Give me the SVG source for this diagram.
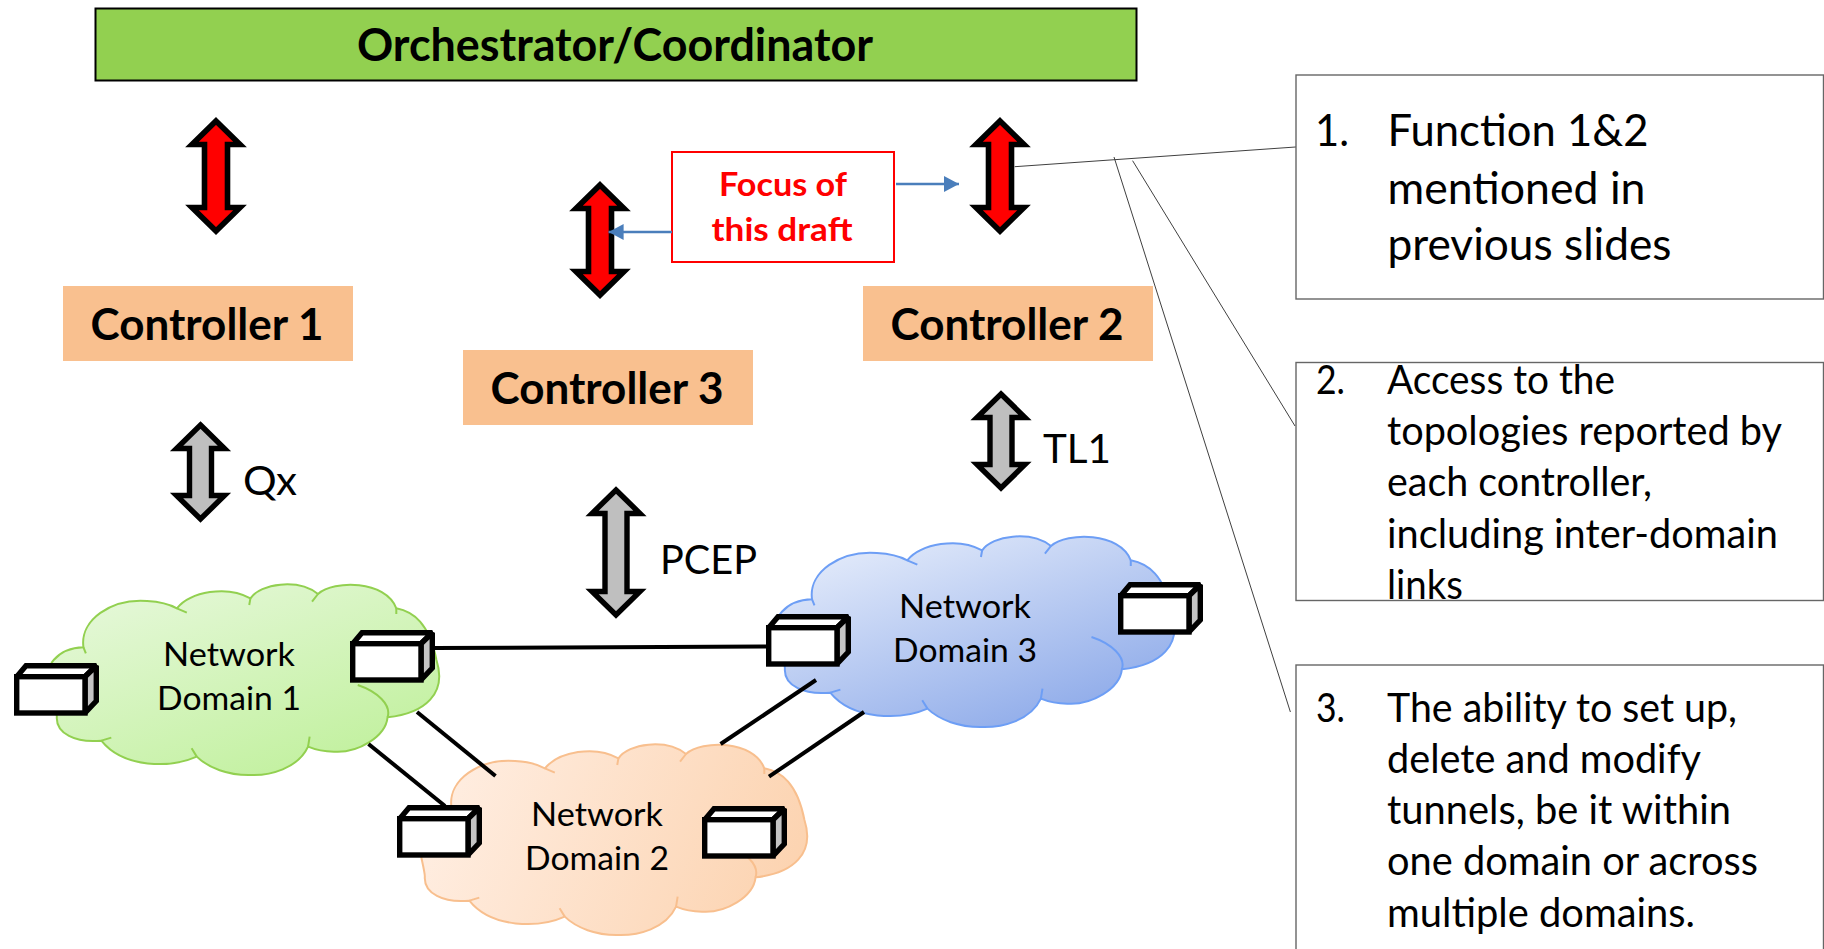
<svg xmlns="http://www.w3.org/2000/svg" xmlns:xlink="http://www.w3.org/1999/xlink" width="1824" height="949" viewBox="0 0 1824 949">
<style>
text{font-family:"Lato","Open Sans","Liberation Sans",sans-serif;fill:#000}
.b{font-weight:700}
.ctrl{fill:#F9C08F}
.cl{font-size:44px;font-weight:700;text-anchor:middle}
.nd{font-size:33px;text-anchor:middle}
.pr{font-size:41px}
.li{font-size:45px}
.ls{font-size:40px}
.red{fill:#FF0000;stroke:#000;stroke-width:5.6;stroke-miterlimit:10}
.gry{fill:#BFBFBF;stroke:#000;stroke-width:5.4;stroke-miterlimit:10}
.ce{stroke-width:2;vector-effect:non-scaling-stroke;stroke-linejoin:round}
.cw{fill:none}
.link{stroke:#000;stroke-width:4;fill:none}
.call{stroke:#404040;stroke-width:1;fill:none}
.blue{stroke:#4A7EBB;stroke-width:2.4;fill:none;marker-end:url(#ah)}
.note{fill:#fff;stroke:#666;stroke-width:1.4}
.dv{stroke:#000;stroke-width:5.4;stroke-linejoin:miter;stroke-miterlimit:2}
</style>
<defs>
<marker id="ah" markerUnits="userSpaceOnUse" markerWidth="16" markerHeight="18" refX="15" refY="9" orient="auto"><path d="M0,1 L15,9 L0,17Z" fill="#4A7EBB"/></marker>
<linearGradient id="g1" x1="0.15" y1="0" x2="0.85" y2="1"><stop offset="0" stop-color="#E6F8DA"/><stop offset="1" stop-color="#BFF09A"/></linearGradient>
<linearGradient id="g2" x1="0" y1="0.4" x2="1" y2="0.6"><stop offset="0" stop-color="#FFEEE2"/><stop offset="1" stop-color="#FCD3B0"/></linearGradient>
<linearGradient id="g3" x1="0.15" y1="0" x2="0.85" y2="1"><stop offset="0" stop-color="#E6EDFB"/><stop offset="1" stop-color="#88A6E8"/></linearGradient>
<path id="cloud" class="ce" d="M135,420 C155,393 180,383 210,382 C200,300 280,235 370,243 C400,245 430,255 445,265 C480,215 570,195 630,235 C655,190 750,175 800,222 C840,180 970,180 997,265 C1040,275 1080,310 1098,420 C1125,520 1070,580 975,592 C970,650 900,700 840,695 C815,695 795,690 775,680 C750,745 680,768 625,765 C575,765 525,745 495,710 C430,745 310,745 255,662 C190,670 140,640 143,590 C143,560 110,450 135,420Z"/>
<path id="cloudin" class="ce cw" d="M210,382 L216,400 M445,265 L470,278 M630,235 L627,255 M800,222 L785,245 M997,265 L997,282 M900,495 C950,515 985,555 975,592 M775,680 L779,650 M495,710 L482,685 M255,662 L280,653"/>
<g id="dev">
<path class="dv" fill="#fff" d="M2.7,13.7 L12,2.7 L82.3,2.7 L71,13.7Z"/>
<path class="dv" fill="#C4C4C4" d="M71,13.7 L82.3,2.7 L82.3,38 L71,50Z"/>
<rect class="dv" fill="#fff" x="2.7" y="13.7" width="68.3" height="36.3"/>
</g>
<polygon id="dbl118" points="0,4 24,27.5 11.5,27.5 11.5,90.5 24,90.5 0,114 -24,90.5 -11.5,90.5 -11.5,27.5 -24,27.5"/>
<polygon id="dbl102" points="0,4 24,27.5 11,27.5 11,74.5 24,74.5 0,98 -24,74.5 -11,74.5 -11,27.5 -24,27.5"/>
<polygon id="dbl133" points="0,4 24,27.5 11,27.5 11,105.5 24,105.5 0,129 -24,105.5 -11,105.5 -11,27.5 -24,27.5"/>
</defs>
<rect width="1824" height="949" fill="#fff"/>

<g id="orchestrator">
<rect x="95.5" y="8.5" width="1041" height="72" fill="#92D050" stroke="#000" stroke-width="2"/>
<text class="b" x="615" y="61" font-size="45" text-anchor="middle" textLength="516" lengthAdjust="spacingAndGlyphs">Orchestrator/Coordinator</text>
</g>

<g id="controller-1"><rect class="ctrl" x="63" y="286" width="290" height="75"/><text class="cl" x="207" y="340" textLength="233" lengthAdjust="spacingAndGlyphs">Controller 1</text></g>
<g id="controller-2"><rect class="ctrl" x="863" y="286" width="290" height="75"/><text class="cl" x="1007" y="340" textLength="233" lengthAdjust="spacingAndGlyphs">Controller 2</text></g>
<g id="controller-3"><rect class="ctrl" x="463" y="350" width="290" height="75"/><text class="cl" x="607" y="404" textLength="233" lengthAdjust="spacingAndGlyphs">Controller 3</text></g>

<g id="cloud-1" transform="translate(0,520) scale(0.3975,0.3333)" fill="url(#g1)" stroke="#92D050"><use xlink:href="#cloud" href="#cloud"/><use xlink:href="#cloudin" href="#cloudin"/></g>
<g id="cloud-2" transform="translate(368,680) scale(0.3975,0.3333)" fill="url(#g2)" stroke="#F8BF8E"><use xlink:href="#cloud" href="#cloud"/><use xlink:href="#cloudin" href="#cloudin"/></g>
<g id="cloud-3" transform="translate(727,472) scale(0.405,0.3333)" fill="url(#g3)" stroke="#6D9EF5"><use xlink:href="#cloud" href="#cloud"/><use xlink:href="#cloudin" href="#cloudin"/></g>

<g id="connectors">
<line class="link" x1="435" y1="648" x2="768" y2="646.5"/>
<line class="link" x1="417" y1="712" x2="495.5" y2="776"/>
<line class="link" x1="368.5" y1="744" x2="445" y2="806"/>
<line class="link" x1="816" y1="680" x2="720.6" y2="744"/>
<line class="link" x1="864" y1="712" x2="769" y2="776.7"/>
<line class="call" x1="1014.7" y1="166.7" x2="1300" y2="146.7"/>
<line class="call" x1="1114" y1="157" x2="1290.4" y2="712"/>
<line class="call" x1="1132.6" y1="160.7" x2="1295" y2="426"/>
</g>

<g id="domain-1-label"><text class="nd" x="229" y="665.5" textLength="132" lengthAdjust="spacingAndGlyphs">Network</text><text class="nd" x="229" y="709.5" textLength="144" lengthAdjust="spacingAndGlyphs">Domain 1</text></g>
<g id="domain-2-label"><text class="nd" x="597" y="825.5" textLength="132" lengthAdjust="spacingAndGlyphs">Network</text><text class="nd" x="597" y="869.5" textLength="144" lengthAdjust="spacingAndGlyphs">Domain 2</text></g>
<g id="domain-3-label"><text class="nd" x="965" y="617.5" textLength="132" lengthAdjust="spacingAndGlyphs">Network</text><text class="nd" x="965" y="661.5" textLength="144" lengthAdjust="spacingAndGlyphs">Domain 3</text></g>

<g id="device-1"><use xlink:href="#dev" href="#dev" x="14" y="663"/></g>
<g id="device-2"><use xlink:href="#dev" href="#dev" x="350" y="630"/></g>
<g id="device-3"><use xlink:href="#dev" href="#dev" x="397" y="805"/></g>
<g id="device-4"><use xlink:href="#dev" href="#dev" x="702" y="806"/></g>
<g id="device-5"><use xlink:href="#dev" href="#dev" x="766" y="614"/></g>
<g id="device-6"><use xlink:href="#dev" href="#dev" x="1118" y="582"/></g>

<g id="arrow-orch-c1"><use class="red" xlink:href="#dbl118" href="#dbl118" x="216" y="117"/></g>
<g id="arrow-orch-c3"><use class="red" xlink:href="#dbl118" href="#dbl118" x="600" y="181"/></g>
<g id="arrow-orch-c2"><use class="red" xlink:href="#dbl118" href="#dbl118" x="1000" y="117"/></g>
<g id="arrow-qx"><use class="gry" xlink:href="#dbl102" href="#dbl102" x="200.5" y="421"/><text class="pr" x="243" y="494.5" textLength="54" lengthAdjust="spacingAndGlyphs">Qx</text></g>
<g id="arrow-tl1"><use class="gry" xlink:href="#dbl102" href="#dbl102" x="1001" y="390"/><text class="pr" x="1043" y="462.5" textLength="68" lengthAdjust="spacingAndGlyphs">TL1</text></g>
<g id="arrow-pcep"><use class="gry" xlink:href="#dbl133" href="#dbl133" x="616" y="486"/><text class="pr" x="660" y="574" textLength="97" lengthAdjust="spacingAndGlyphs">PCEP</text></g>

<g id="focus">
<rect x="672" y="152" width="222" height="110" fill="#fff" stroke="#FF0000" stroke-width="2"/>
<text class="b" x="783" y="196" font-size="33" text-anchor="middle" style="fill:#FF0000" textLength="128" lengthAdjust="spacingAndGlyphs">Focus of</text>
<text class="b" x="782" y="241" font-size="33" text-anchor="middle" style="fill:#FF0000" textLength="141" lengthAdjust="spacingAndGlyphs">this draft</text>
<line class="blue" x1="896" y1="184" x2="959" y2="184"/>
<line class="blue" x1="672" y1="232" x2="608.6" y2="232"/>
</g>

<g id="note-1">
<rect class="note" x="1296" y="75" width="527.5" height="224"/>
<text class="li" x="1315" y="146" textLength="34" lengthAdjust="spacingAndGlyphs">1.</text>
<text class="li" x="1387.5" y="146" textLength="261" lengthAdjust="spacingAndGlyphs">Function 1&amp;2</text>
<text class="li" x="1387.5" y="203.5" textLength="258" lengthAdjust="spacingAndGlyphs">mentioned in</text>
<text class="li" x="1387.5" y="260" textLength="284" lengthAdjust="spacingAndGlyphs">previous slides</text>
</g>
<g id="note-2">
<rect class="note" x="1296" y="362.5" width="527.5" height="238"/>
<text class="ls" x="1316" y="393.5" textLength="29" lengthAdjust="spacingAndGlyphs">2.</text>
<text class="ls" x="1387" y="393.5" textLength="228" lengthAdjust="spacingAndGlyphs">Access to the</text>
<text class="ls" x="1387" y="444.5" textLength="395" lengthAdjust="spacingAndGlyphs">topologies reported by</text>
<text class="ls" x="1387" y="496" textLength="265" lengthAdjust="spacingAndGlyphs">each controller,</text>
<text class="ls" x="1387" y="547.5" textLength="391" lengthAdjust="spacingAndGlyphs">including inter-domain</text>
<text class="ls" x="1387" y="598.5" textLength="76" lengthAdjust="spacingAndGlyphs">links</text>
</g>
<g id="note-3">
<rect class="note" x="1296" y="665" width="527.5" height="300"/>
<text class="ls" x="1316" y="721.5" textLength="29" lengthAdjust="spacingAndGlyphs">3.</text>
<text class="ls" x="1387" y="721.5" textLength="350" lengthAdjust="spacingAndGlyphs">The ability to set up,</text>
<text class="ls" x="1387" y="772.5" textLength="314" lengthAdjust="spacingAndGlyphs">delete and modify</text>
<text class="ls" x="1387" y="823.5" textLength="344" lengthAdjust="spacingAndGlyphs">tunnels, be it within</text>
<text class="ls" x="1387" y="875" textLength="371" lengthAdjust="spacingAndGlyphs">one domain or across</text>
<text class="ls" x="1387" y="926.5" textLength="308" lengthAdjust="spacingAndGlyphs">multiple domains.</text>
</g>
</svg>
